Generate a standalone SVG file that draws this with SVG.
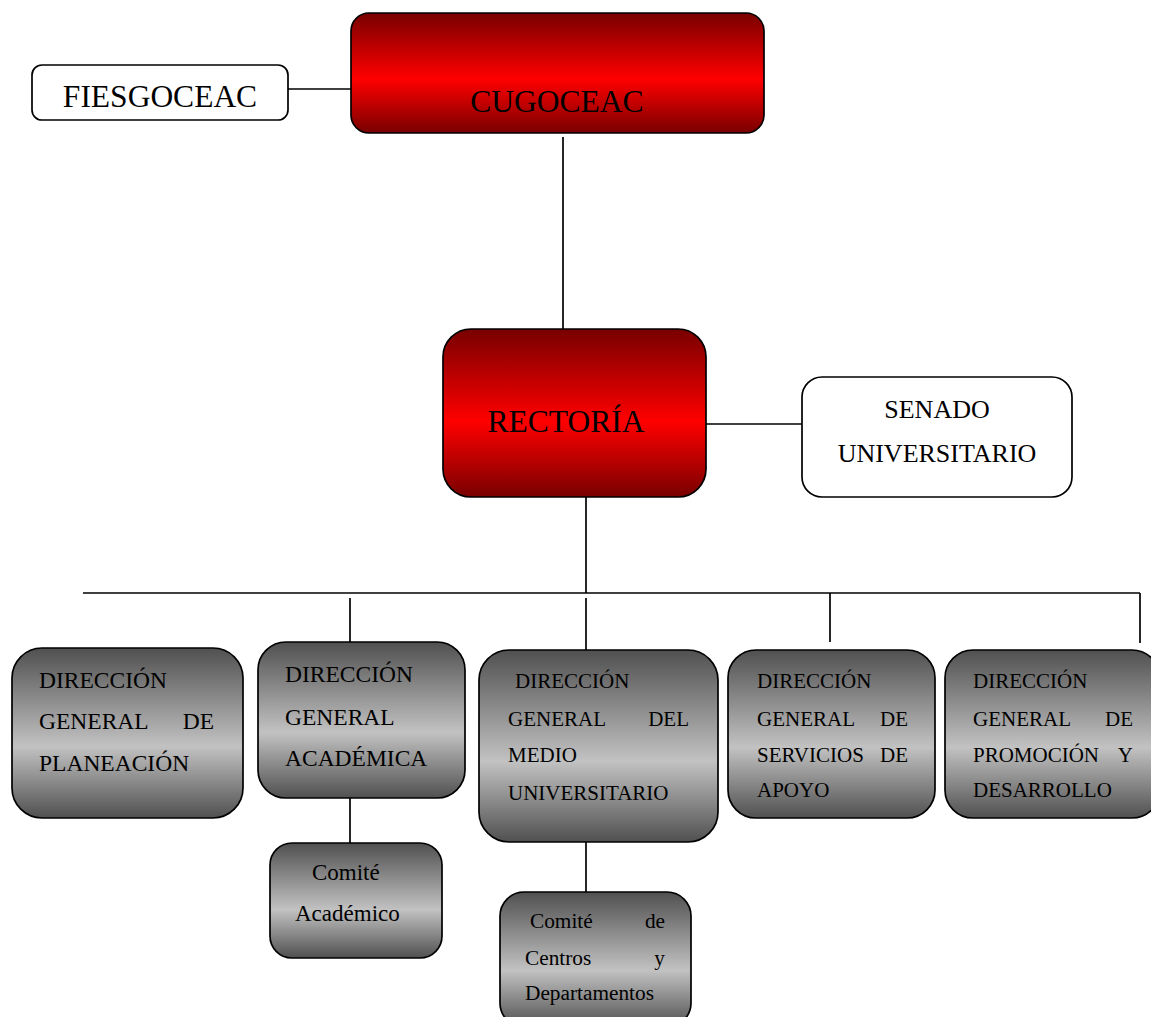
<svg xmlns="http://www.w3.org/2000/svg" width="1151" height="1017" viewBox="0 0 1151 1017">
<defs>
<linearGradient id="red" x1="0" y1="0" x2="0" y2="1">
<stop offset="0" stop-color="#780000"/>
<stop offset="0.55" stop-color="#ff0000"/>
<stop offset="1" stop-color="#780000"/>
</linearGradient>
<linearGradient id="grey" x1="0" y1="0" x2="0" y2="1">
<stop offset="0" stop-color="#505050"/>
<stop offset="0.58" stop-color="#c2c2c2"/>
<stop offset="1" stop-color="#505050"/>
</linearGradient>
<style>
.box{stroke:#000;stroke-width:1.7}
.red{fill:url(#red)}
.grey{fill:url(#grey)}
.white{fill:#fff}
text{font-family:'Liberation Serif','Times New Roman',serif;fill:#000}
.big{font-size:31.5px}
.mid{font-size:26px}
.dg{font-size:23.5px}
.ds{font-size:21px}
.ca{font-size:23px}
.cm{font-size:21.3px}
.ln{stroke:#000;stroke-width:1.7;fill:none}
</style>
</defs>
<rect width="1151" height="1017" fill="#fff"/>
<g id="connectors">
<line class="ln" x1="288" y1="89" x2="351" y2="89"/>
<line class="ln" x1="563" y1="137" x2="563" y2="329"/>
<line class="ln" x1="706" y1="424" x2="802" y2="424"/>
<line class="ln" x1="586" y1="497" x2="586" y2="593"/>
<line class="ln" x1="83" y1="593" x2="1140" y2="593"/>
<line class="ln" x1="350" y1="598" x2="350" y2="642"/>
<line class="ln" x1="586" y1="598" x2="586" y2="650"/>
<line class="ln" x1="830" y1="593" x2="830" y2="642"/>
<line class="ln" x1="1140" y1="593" x2="1140" y2="643"/>
<line class="ln" x1="350" y1="798" x2="350" y2="843"/>
<line class="ln" x1="586" y1="842" x2="586" y2="892"/>
</g>
<g id="cugoceac">
<rect class="box red" x="351" y="13" width="413" height="120" rx="18"/>
<text class="big" x="557" y="112" text-anchor="middle">CUGOCEAC</text>
</g>
<g id="fiesgoceac">
<rect class="box white" x="32" y="65" width="256" height="55" rx="10"/>
<text class="big" x="160" y="107" text-anchor="middle">FIESGOCEAC</text>
</g>
<g id="rectoria">
<rect class="box red" x="443" y="329" width="263" height="168" rx="28"/>
<text class="big" x="566" y="432" text-anchor="middle">RECTORÍA</text>
</g>
<g id="senado">
<rect class="box white" x="802" y="377" width="270" height="120" rx="20"/>
<text class="mid" x="937" y="418" text-anchor="middle">SENADO</text>
<text class="mid" x="937" y="462" text-anchor="middle">UNIVERSITARIO</text>
</g>
<g id="planeacion">
<rect class="box grey" x="12" y="648" width="231" height="170" rx="30"/>
<text class="dg" x="39" y="688">DIRECCIÓN</text>
<text class="dg" y="729"><tspan x="39">GENERAL</tspan><tspan x="214" text-anchor="end">DE</tspan></text>
<text class="dg" x="39" y="771">PLANEACIÓN</text>
</g>
<g id="academica">
<rect class="box grey" x="258" y="642" width="207" height="156" rx="28"/>
<text class="dg" x="285" y="682">DIRECCIÓN</text>
<text class="dg" x="285" y="725">GENERAL</text>
<text class="dg" x="285" y="766">ACADÉMICA</text>
</g>
<g id="medio">
<rect class="box grey" x="479" y="650" width="239" height="192" rx="30"/>
<text class="ds" x="515" y="688">DIRECCIÓN</text>
<text class="ds" y="726"><tspan x="508">GENERAL</tspan><tspan x="689" text-anchor="end">DEL</tspan></text>
<text class="ds" x="508" y="762">MEDIO</text>
<text class="ds" x="508" y="800">UNIVERSITARIO</text>
</g>
<g id="servicios">
<rect class="box grey" x="728" y="650" width="207" height="168" rx="28"/>
<text class="ds" x="757" y="688">DIRECCIÓN</text>
<text class="ds" y="726"><tspan x="757">GENERAL</tspan><tspan x="908" text-anchor="end">DE</tspan></text>
<text class="ds" y="762"><tspan x="757">SERVICIOS</tspan><tspan x="908" text-anchor="end">DE</tspan></text>
<text class="ds" x="757" y="797">APOYO</text>
</g>
<g id="promocion">
<rect class="box grey" x="945" y="650" width="215" height="168" rx="28"/>
<text class="ds" x="973" y="688">DIRECCIÓN</text>
<text class="ds" y="726"><tspan x="973">GENERAL</tspan><tspan x="1133" text-anchor="end">DE</tspan></text>
<text class="ds" y="762"><tspan x="973">PROMOCIÓN</tspan><tspan x="1133" text-anchor="end">Y</tspan></text>
<text class="ds" x="973" y="797">DESARROLLO</text>
</g>
<g id="comite-academico">
<rect class="box grey" x="270" y="843" width="172" height="115" rx="22"/>
<text class="ca" x="312" y="880">Comité</text>
<text class="ca" x="295" y="921">Académico</text>
</g>
<g id="comite-centros">
<rect class="box grey" x="500" y="892" width="191" height="135" rx="24"/>
<text class="cm" y="928"><tspan x="530">Comité</tspan><tspan x="665" text-anchor="end">de</tspan></text>
<text class="cm" y="965"><tspan x="525">Centros</tspan><tspan x="665" text-anchor="end">y</tspan></text>
<text class="cm" x="525" y="1000">Departamentos</text>
</g>
</svg>
